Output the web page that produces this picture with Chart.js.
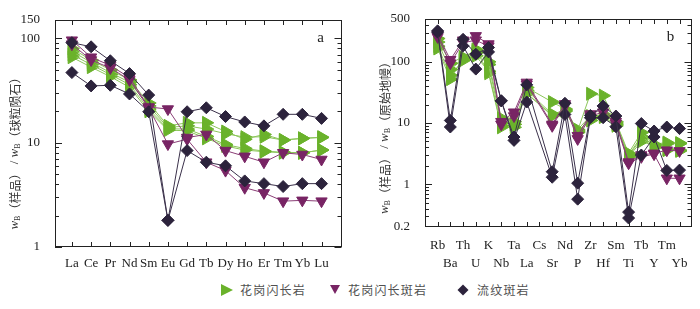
<!DOCTYPE html>
<html>
<head>
<meta charset="utf-8">
<script src="https://cdn.jsdelivr.net/npm/chart.js@4.4.1/dist/chart.umd.min.js"></script>
<style>
  body { margin: 0; background: #fff; width: 700px; height: 309px; position: relative; overflow: hidden; }
  .box { position: absolute; top: 0; width: 350px; height: 270px; }
  #boxA { left: 0; }
  #boxB { left: 350px; }
  .lg { position: absolute; top: 282px; font: 12px "Noto Sans CJK SC"; letter-spacing: 1.2px; color: #505050; line-height: 16px; }
  #marks { position: absolute; left: 0; top: 270px; }
</style>
</head>
<body>
<div class="box" id="boxA"><canvas id="chartA"></canvas></div>
<div class="box" id="boxB"><canvas id="chartB"></canvas></div>

<svg id="marks" width="700" height="39">
  <polygon points="221,14 233,20 221,26" fill="rgb(106,178,43)"/>
  <polygon points="330,15 340,15 335,24" fill="rgb(120,36,100)"/>
  <polygon points="463,14.5 468.5,20 463,25.5 457.5,20" fill="rgb(44,35,60)"/>
</svg>
<span class="lg" style="left:240px">花岗闪长岩</span>
<span class="lg" style="left:348px">花岗闪长斑岩</span>
<span class="lg" style="left:477px">流纹斑岩</span>

<script>
// ---- panel a : chondrite normalised REE ----
const reeLabels = ["La", "Ce", "Pr", "Nd", "Sm", "Eu", "Gd", "Tb", "Dy", "Ho", "Er", "Tm", "Yb", "Lu"];
const reeGd1 = [80, 62, 50, 40, 24, 14.5, 15.5, 15.5, 12.8, 10.8, 12.0, 10.6, 11.0, 11.3];
const reeGd2 = [75, 59, 47, 38, 22.5, 14.0, 14.5, 13.5, 12.2, 11.3, 11.4, 10.6, 11.0, 11.2];
const reeGd3 = [70, 56, 45, 36, 21, 13.6, 13.5, 11.5, 9.6, 8.8, 8.3, 8.1, 8.0, 8.5];
const reeGd4 = [66, 53, 43, 34, 20, 13.2, 13.0, 11.0, 9.3, 8.5, 8.2, 8.0, 8.0, 8.5];
const reeGdp1 = [96, 66, 55, 42, 22, 21, 11.2, 12.0, 8.4, 7.4, 6.5, 8.0, 7.7, 6.9];
const reeGdp2 = [88, 62, 52, 40, 21.5, 9.7, 10.8, 6.5, 5.4, 3.7, 3.3, 2.75, 2.8, 2.75];
const reeRp1 = [91, 83, 61, 46, 28.6, 1.8, 19.8, 21.6, 17.8, 15.8, 14.5, 18.7, 18.7, 17.1];
const reeRp2 = [47, 35, 35.5, 29.3, 19.8, 1.8, 8.4, 6.5, 6.0, 4.3, 4.05, 3.8, 4.05, 4.05];
const reeYTicks = [1, 10, 100, 150];

// ---- panel b : primitive mantle normalised trace elements ----
const traceLabels = ["Rb", "Ba", "Th", "U", "K", "Nb", "Ta", "La", "Cs", "Sr", "Nd", "P", "Zr", "Hf", "Sm", "Ti", "Tb", "Y", "Tm", "Yb"];
const pmGd1 = [240, 95, 120, 150, 100, 12, 10.5, 38, null, 22, 17, 7.5, 30, 28, 10.5, 3.2, 7.0, 4.5, 4.8, 4.7];
const pmGd2 = [210, 75, 110, 140, 90, 10, 9.5, 34, null, 14, 16, 7.2, 12, 14, 10, 3.0, 6.0, 4.2, 4.6, 4.6];
const pmGd3 = [180, 60, 105, 125, 70, 9, 8.5, 31, null, 13, 15.5, 7.0, 11, 13, 9.5, 2.9, 5.6, 4.0, 3.7, 3.6];
const pmGd4 = [165, 52, 115, 160, 65, 8.5, 9.5, 30, null, 13.5, 16.5, 7.8, 13, 12.5, 9, 2.8, 5.0, 4.3, 3.6, 3.5];
const pmGdp1 = [280, 108, 225, 265, 195, 10.5, 15, 46, null, 9.5, 20.5, 6.2, 14, 17, 10.5, 2.3, 3.0, 3.2, 3.6, 3.5];
const pmGdp2 = [255, 95, 205, 225, 180, 9.5, 13, 43, null, 9.0, 19, 5.5, 13, 15, 9.8, 2.2, 2.8, 3.1, 1.25, 1.25];
const pmRp1 = [320, 11, 233, 133, 171, 23, 5.9, 42, null, 1.6, 21, 1.04, 13.3, 19, 13, 0.35, 9.8, 7.4, 8.6, 8.1];
const pmRp2 = [305, 8.6, 182, 76, 145, 23, 5.2, 22, null, 1.3, 13.8, 0.57, 12.2, 12.2, 8.7, 0.28, 3.0, 5.9, 1.68, 1.7];
const pmYTicks = [0.2, 1, 10, 100, 500];

const INK = "#222";
const SERIF = '"Liberation Serif", "DejaVu Serif", serif';
const CJK = '"Noto Sans CJK SC", sans-serif';

const styles = {
    gd:  { color: "rgb(106,178,43)", line: "rgb(140,198,90)", shape: "triangle", rot: 90, r: 7.5 },
    gdp: { color: "rgb(120,36,100)", line: "rgb(138,62,118)", shape: "triangle", rot: 180, r: 6.5 },
    rp:  { color: "rgb(44,35,60)", line: "rgb(58,48,74)", shape: "rectRot", rot: 0, r: 6 },
};

function toDataset(values, kind) {
    const s = styles[kind];
    return {
        data: values.map((v, i) => ({ x: i, y: v })),
        borderColor: s.line,
        borderWidth: 1,
        pointStyle: s.shape,
        pointRotation: s.rot,
        pointRadius: s.r,
        pointBackgroundColor: s.color,
        pointBorderColor: s.color,
        pointBorderWidth: 1,
        spanGaps: true,
        tension: 0,
        fill: false,
    };
}

// minor ticks for a log axis between lo and hi
function logMinors(lo, hi) {
    const out = [];
    for (let d = Math.pow(10, Math.floor(Math.log10(lo))); d < hi; d *= 10) {
        for (let k = 2; k <= 9; k++) {
            const v = k * d;
            if (v > lo && v < hi) out.push(v);
        }
    }
    return out;
}

function drawTitle(ctx, cx, cy, parts) {
    ctx.save();
    ctx.translate(cx, cy);
    ctx.rotate(-Math.PI / 2);
    let total = 0;
    parts.forEach(p => { ctx.font = p.font; total += ctx.measureText(p.text).width; });
    let x = -total / 2;
    ctx.textBaseline = "middle";
    ctx.textAlign = "left";
    ctx.fillStyle = "#333";
    parts.forEach(p => {
        ctx.font = p.font;
        ctx.fillText(p.text, x, p.dy || 0);
        x += ctx.measureText(p.text).width;
    });
    ctx.restore();
}

function titleParts(name) {
    const w = { text: "w", font: "italic 13px " + SERIF };
    const b = { text: "B", font: "8px " + SERIF, dy: 3 };
    return [w, b, { text: "（样品）", font: "12px " + CJK }, { text: " / ", font: "13px " + SERIF },
            w, b, { text: "（" + name + "）", font: "12px " + CJK }];
}

const frame = {
    id: "frame",
    afterDatasetsDraw(chart, args, o) {
        const { ctx, chartArea: a, scales: { x, y } } = chart;
        ctx.save();
        ctx.strokeStyle = INK;
        ctx.lineWidth = 1;
        ctx.strokeRect(Math.round(a.left) + 0.5, Math.round(a.top) + 0.5,
                       Math.round(a.right - a.left) - 1, Math.round(a.bottom - a.top) - 1);
        ctx.beginPath();
        x.ticks.forEach(t => {
            const px = Math.round(x.getPixelForValue(t.value)) + 0.5;
            ctx.moveTo(px, a.top); ctx.lineTo(px, a.top + 5);
            ctx.moveTo(px, a.bottom); ctx.lineTo(px, a.bottom - 5);
        });
        const tick = (v, len) => {
            const py = Math.round(y.getPixelForValue(v)) + 0.5;
            ctx.moveTo(a.left, py); ctx.lineTo(a.left + len, py);
            ctx.moveTo(a.right, py); ctx.lineTo(a.right - len, py);
        };
        o.major.forEach(v => tick(v, 7));
        o.minor.forEach(v => tick(v, 4));
        ctx.stroke();

        ctx.fillStyle = INK;
        ctx.font = "15px " + SERIF;
        ctx.textAlign = "center";
        ctx.textBaseline = "middle";
        ctx.fillText(o.letter, a.right - 21, a.top + 18);
        ctx.restore();

        drawTitle(ctx, o.titleX, (a.top + a.bottom) / 2 + o.titleShift, titleParts(o.titleName));
    },
};

function makeChart(id, cfg) {
    return new Chart(document.getElementById(id), {
        type: "line",
        data: { datasets: cfg.datasets },
        options: {
            responsive: true,
            maintainAspectRatio: false,
            animation: false,
            layout: { padding: { top: cfg.top, right: 7, left: 0, bottom: 0 } },
            plugins: {
                legend: { display: false },
                tooltip: { enabled: false },
                frame: cfg.frame,
            },
            scales: {
                x: {
                    type: "linear",
                    min: cfg.xMin,
                    max: cfg.xMax,
                    afterBuildTicks: s => { s.ticks = cfg.labels.map((_, i) => ({ value: i })); },
                    afterFit: s => { s.height = cfg.xHeight; },
                    ticks: {
                        callback: cfg.xLabel,
                        autoSkip: false,
                        maxRotation: 0,
                        padding: cfg.xPad,
                        color: INK,
                        font: { family: SERIF, size: 13, lineHeight: cfg.lineHeight },
                    },
                    grid: { display: false },
                    border: { display: false },
                },
                y: {
                    type: "logarithmic",
                    min: cfg.yTicks[0],
                    max: cfg.yTicks[cfg.yTicks.length - 1],
                    afterBuildTicks: s => { s.ticks = cfg.yTicks.map(v => ({ value: v })); },
                    afterFit: s => { s.width = cfg.yWidth; },
                    ticks: {
                        callback: v => String(v),
                        autoSkip: false,
                        padding: 7,
                        color: INK,
                        font: { family: SERIF, size: 13 },
                    },
                    grid: { display: false },
                    border: { display: false },
                },
            },
        },
        plugins: [frame],
    });
}

makeChart("chartA", {
    labels: reeLabels,
    datasets: [
        toDataset(reeRp1, "rp"), toDataset(reeRp2, "rp"),
        toDataset(reeGdp1, "gdp"), toDataset(reeGdp2, "gdp"),
        toDataset(reeGd1, "gd"), toDataset(reeGd2, "gd"), toDataset(reeGd3, "gd"), toDataset(reeGd4, "gd"),
    ],
    top: 20,
    xMin: -0.88, xMax: 14.04,
    xHeight: 23, xPad: 1, lineHeight: 1.2,
    xLabel: v => reeLabels[v],
    yTicks: reeYTicks,
    yWidth: 55,
    frame: { major: [1, 10, 100], minor: logMinors(1, 100), letter: "a", titleName: "球粒陨石", titleX: 15, titleShift: 17 },
});

makeChart("chartB", {
    labels: traceLabels,
    datasets: [
        toDataset(pmRp1, "rp"), toDataset(pmRp2, "rp"),
        toDataset(pmGdp1, "gdp"), toDataset(pmGdp2, "gdp"),
        toDataset(pmGd1, "gd"), toDataset(pmGd2, "gd"), toDataset(pmGd3, "gd"), toDataset(pmGd4, "gd"),
    ],
    top: 19,
    xMin: -0.99, xMax: 19.94,
    xHeight: 43, xPad: 2, lineHeight: 18 / 13,
    xLabel: v => (v % 2 === 0 ? [traceLabels[v], ""] : ["", traceLabels[v]]),
    yTicks: pmYTicks,
    yWidth: 75,
    frame: { major: [1, 10, 100], minor: logMinors(0.2, 500), letter: "b", titleName: "原始地幔", titleX: 35, titleShift: 12 },
});
</script>
</body>
</html>
